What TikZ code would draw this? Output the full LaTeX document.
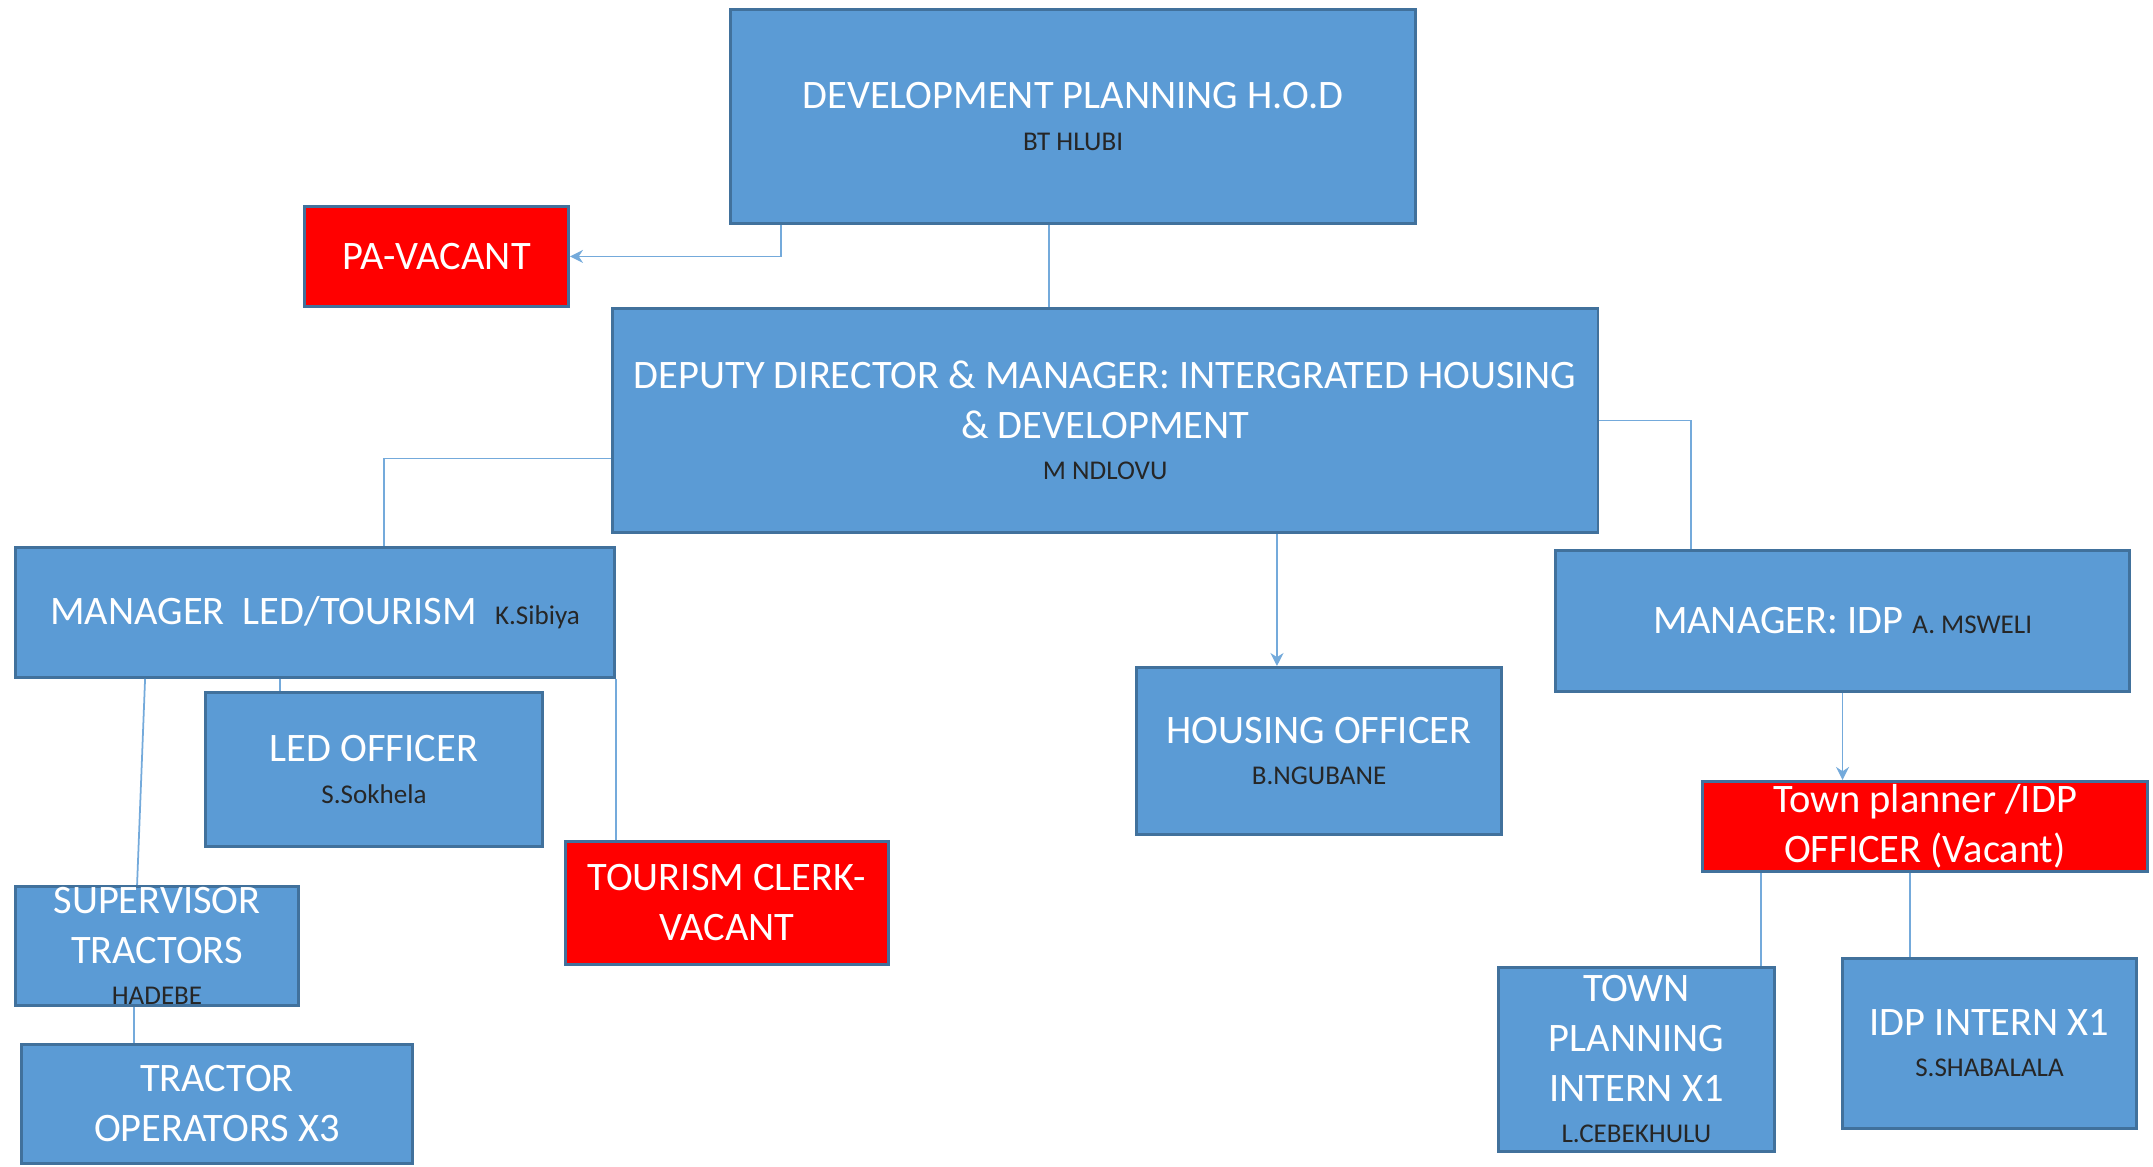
\documentclass[tikz,border=0pt]{standalone}
\usepackage{fontspec}
\setmainfont{Carlito}
\usetikzlibrary{arrows.meta}

\definecolor{boxblue}{HTML}{5B9BD5}
\definecolor{boxedge}{HTML}{41719C}
\definecolor{vacant}{HTML}{FF0000}
\newcommand{\who}[1]{{\color{black!85}\fontsize{7.7}{8.5}\selectfont #1}}

\tikzset{
    post/.style={draw=boxedge, line width=0.8pt, fill=boxblue, text=white,
        anchor=north west, inner sep=0pt, align=center,
        font=\fontsize{11.5}{14.2}\selectfont},
    vacantpost/.style={post, fill=vacant},
    link/.style={draw=boxblue!85, line width=0.5pt},
    tip/.style={-{Stealth[length=1.3mm,width=1.3mm]}},
}

\begin{document}
\begin{tikzpicture}[x=0.01cm, y=-0.01cm]
    \useasboundingbox (0,0) rectangle (2153,1167);
    % top of the department
    \node[post, minimum width=6.85cm, minimum height=2.14cm] (hod) at (729,8)
        {DEVELOPMENT PLANNING H.O.D\\[-2.5pt]\who{BT HLUBI}};
    \node[vacantpost, minimum width=2.64cm, minimum height=1.00cm] (pa) at (303,205)
        {PA-VACANT};
    \node[post, minimum width=9.85cm, minimum height=2.24cm] (deputy) at (611,307)
        {DEPUTY DIRECTOR \& MANAGER:\ INTERGRATED HOUSING\\\& DEVELOPMENT\\[-2.5pt]\who{M NDLOVU}};
    % LED / tourism branch
    \node[post, minimum width=5.99cm, minimum height=1.30cm] (ledmgr) at (14,546)
        {MANAGER\ \ LED/TOURISM\ \ \who{K.Sibiya}};
    \node[post, minimum width=3.37cm, minimum height=1.54cm] (ledoff) at (204,691)
        {LED OFFICER\\[-2.5pt]\who{S.Sokhela}};
    \node[post, minimum width=2.83cm, minimum height=1.19cm] (sup) at (14,885)
        {SUPERVISOR\\TRACTORS\\[-2.5pt]\who{HADEBE}};
    \node[post, minimum width=3.91cm, minimum height=1.19cm] (tops) at (20,1043)
        {TRACTOR\\OPERATORS X3};
    \node[vacantpost, minimum width=3.23cm, minimum height=1.23cm] (clerk) at (564,840)
        {TOURISM CLERK-\\VACANT};
    % housing
    \node[post, minimum width=3.65cm, minimum height=1.67cm] (housing) at (1135,666)
        {HOUSING OFFICER\\[-2.5pt]\who{B.NGUBANE}};
    % IDP branch
    \node[post, minimum width=5.74cm, minimum height=1.41cm] (idp) at (1554,549)
        {MANAGER: IDP \who{A. MSWELI}};
    \node[vacantpost, minimum width=4.45cm, minimum height=0.90cm] (town) at (1701,780)
        {Town planner /IDP\\OFFICER (Vacant)};
    \node[post, minimum width=2.76cm, minimum height=1.84cm] (tpi) at (1497,966)
        {TOWN\\PLANNING\\INTERN X1\\[-2.5pt]\who{L.CEBEKHULU}};
    \node[post, minimum width=2.94cm, minimum height=1.70cm] (idpi) at (1841,957)
        {IDP INTERN X1\\[-2.5pt]\who{S.SHABALALA}};

    % connectors
    \draw[link, tip] ([xshift=5.2mm]hod.south west) |- (pa.east);
    \draw[link] ([xshift=-2.4mm]hod.south) -- ([xshift=-2.4mm]hod.south |- deputy.north);
    \draw[link] ([yshift=-3.8mm]deputy.west) -| ([xshift=6.9mm]ledmgr.north);
    \draw[link] ([xshift=7.6mm]ledoff.north west |- ledmgr.south) -- ([xshift=7.6mm]ledoff.north west);
    \draw[link] ([xshift=13.1mm]ledmgr.south west) -- ([xshift=12.3mm]sup.north west);
    \draw[link] ([xshift=12mm]sup.south west) -- ([xshift=12mm]sup.south west |- tops.north);
    \draw[link] (ledmgr.south east) -- (ledmgr.south east |- clerk.north);
    \draw[link, tip] ([xshift=-4.2mm]housing.north |- deputy.south) -- ([xshift=-4.2mm]housing.north);
    \draw[link] (deputy.east) -| ([xshift=13.7mm]idp.north west);
    \draw[link, tip] (idp.south) -- (idp.south |- town.north);
    \draw[link] ([xshift=-1.5mm]tpi.north east |- town.south) -- ([xshift=-1.5mm]tpi.north east);
    \draw[link] ([xshift=6.9mm]idpi.north west |- town.south) -- ([xshift=6.9mm]idpi.north west);
\end{tikzpicture}
\end{document}
